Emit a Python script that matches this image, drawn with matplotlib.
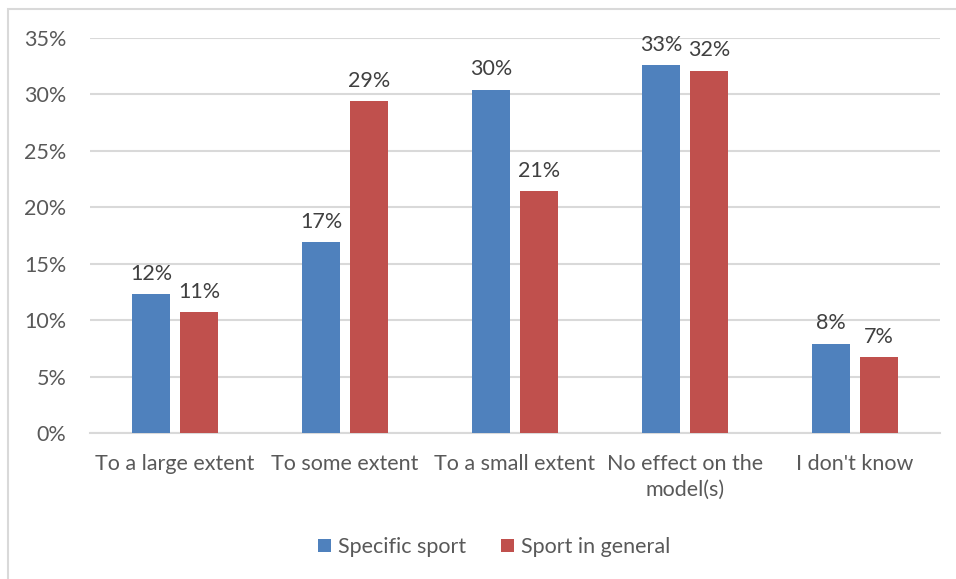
import matplotlib
matplotlib.use("Agg")
import matplotlib.pyplot as plt
import numpy as np
from matplotlib.patches import Rectangle

categories = ["To a large extent", "To some extent", "To a small extent",
              "No effect on the\nmodel(s)", "I don't know"]
specific_sport = [12.3, 16.9, 30.4, 32.6, 7.9]
sport_general = [10.7, 29.4, 21.4, 32.1, 6.7]
series_names = ["Specific sport", "Sport in general"]
yticks = [0, 5, 10, 15, 20, 25, 30, 35]

plt.rcParams['font.family'] = ['Lato', 'DejaVu Sans']

fig = plt.figure(figsize=(9.56, 5.79), dpi=100)
fig.patch.set_facecolor("white")
ax = fig.add_axes([90/956, 1-433/579, 850/956, (433-38)/579])

x = np.arange(len(categories))
w = 0.224
off = 0.141
blue = "#4f81bd"
red = "#c0504d"
b1 = ax.bar(x - off, specific_sport, w, color=blue, label=series_names[0], zorder=3)
b2 = ax.bar(x + off, sport_general, w, color=red, label=series_names[1], zorder=3)

for bars, vals in ((b1, specific_sport), (b2, sport_general)):
    for rect, v in zip(bars, vals):
        ax.annotate(f"{round(v):d}%", (rect.get_x() + rect.get_width()/2, v),
                    xytext=(0, 7.5), textcoords="offset points", ha="center", va="bottom",
                    fontsize=15.5, color="#404040")

ax.set_xlim(-0.5, len(categories) - 0.5)
ax.set_ylim(0, 35)
ax.set_yticks(yticks)
ax.set_yticklabels([f"{t}%" for t in yticks])
ax.set_xticks(x)
ax.set_xticklabels(categories, linespacing=1.35)
ax.tick_params(axis="both", length=0, labelsize=15.5, labelcolor="#595959")
ax.tick_params(axis="y", pad=17)
ax.tick_params(axis="x", pad=15)
ax.grid(axis="y", color="#d9d9d9", linewidth=1.5, zorder=0)
for s in ["top", "right", "left"]:
    ax.spines[s].set_visible(False)
ax.spines["bottom"].set_color("#d9d9d9")
ax.spines["bottom"].set_linewidth(1.5)

leg = fig.legend(handles=[b1, b2], labels=series_names, loc="center",
                 bbox_to_anchor=(494/956, 1-547/579), ncol=2, frameon=False,
                 fontsize=15.5, handlelength=0.6, handleheight=0.6,
                 handletextpad=0.35, columnspacing=1.6)
for t in leg.get_texts():
    t.set_color("#595959")

# chart frame (extends beyond the visible canvas on right and bottom)
fig.add_artist(Rectangle((8/956, -0.1), 1.2, (579-9)/579 + 0.1,
                         transform=fig.transFigure, fill=False,
                         edgecolor="#d9d9d9", linewidth=1.5))

fig.savefig("out.png", dpi=100, facecolor="white")
